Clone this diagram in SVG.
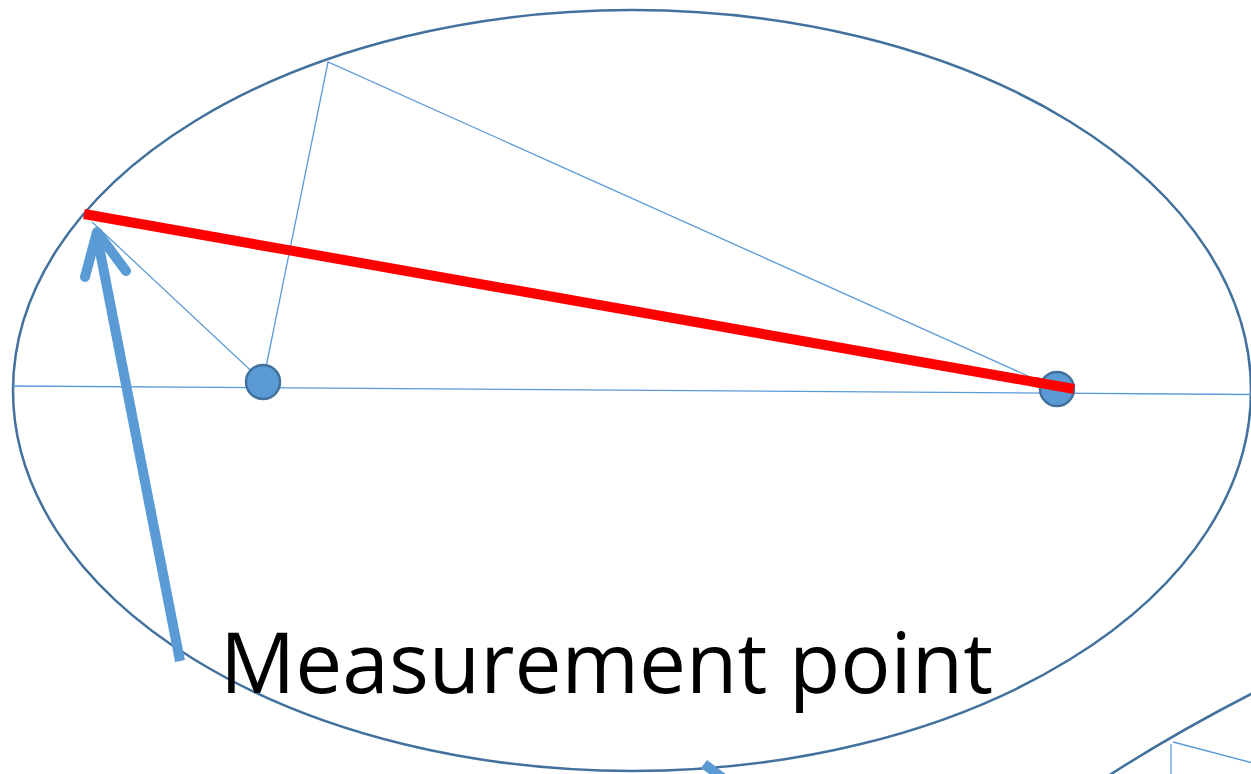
<svg xmlns="http://www.w3.org/2000/svg" width="1251" height="774" viewBox="0 0 1251 774">
<style>
.ell{fill:none;stroke:#41719c;stroke-width:2.5}
.thin{fill:none;stroke:#5b9bd5;stroke-width:1.3}
.dot{fill:#5b9bd5;stroke:#41719c;stroke-width:2.5}
.thick{fill:none;stroke:#5b9bd5;stroke-width:10}
.red{stroke:#ff0000;stroke-width:10}
.lbl{font-family:"Open Sans","Noto Sans",sans-serif;font-size:84px;fill:#000}
</style>
<rect width="1251" height="774" fill="#fff"/>
<g id="ellipse-main">
<ellipse class="ell" cx="632" cy="390.5" rx="619" ry="380.5"/>
</g>
<g id="ellipse-second">
<path class="ell" d="M1108,776 Q1175,733 1253,693"/>
</g>
<g id="connectors">
<line class="thin" x1="13" y1="386" x2="1251" y2="394.5"/>
<line class="thin" x1="92" y1="222" x2="263" y2="382"/>
<polyline class="thin" points="263,382 328,62 1057,389"/>
<line class="thin" x1="1171" y1="744" x2="1171" y2="776"/>
<line class="thin" x1="1173" y1="742" x2="1253" y2="763"/>
<line class="red" x1="84" y1="214" x2="1074" y2="389"/>
<line class="thick" x1="180" y1="661" x2="97" y2="236"/>
<polyline class="thick" points="85,277 97,232 126,271" stroke-linecap="round" stroke-linejoin="round"/>
<line class="thick" x1="704" y1="764" x2="732" y2="785"/>
</g>
<g id="node-left"><circle class="dot" cx="263" cy="382" r="17"/></g>
<g id="node-right"><circle class="dot" cx="1057" cy="389" r="17"/></g>
<g id="connector-red-overlay"><line class="red" x1="1034" y1="381.9" x2="1074" y2="389"/></g>
<g id="label"><text class="lbl" x="220" y="693" textLength="773" lengthAdjust="spacingAndGlyphs">Measurement point</text></g>
</svg>
